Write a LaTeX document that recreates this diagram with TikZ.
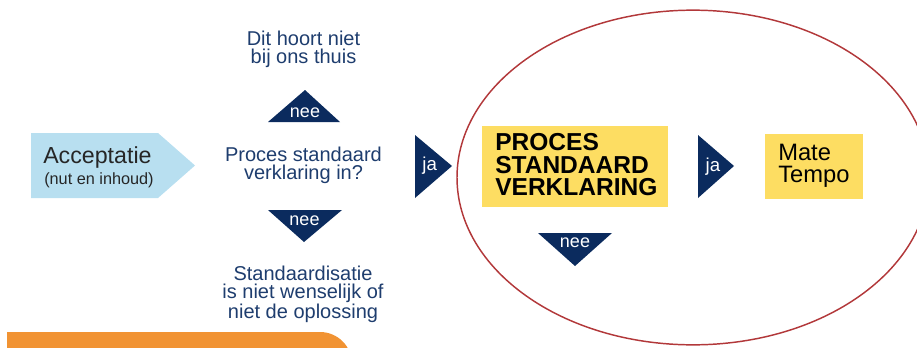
\documentclass[tikz,border=0pt]{standalone}
\usepackage{fontspec}
\setmainfont{Liberation Sans}
\usetikzlibrary{shapes.geometric}
\definecolor{navy}{HTML}{0B2B5E}
\definecolor{navytext}{HTML}{1E3D6E}
\definecolor{lightblue}{HTML}{B8DFF0}
\definecolor{yel}{HTML}{FDDD62}
\definecolor{orng}{HTML}{F19333}
\definecolor{ellred}{HTML}{B2383A}
\begin{document}
\begin{tikzpicture}[x=0.75pt,y=-0.75pt,
  tri/.style={fill=navy},
  trilabel/.style={text=white,font=\fontsize{13.5}{14}\selectfont,inner sep=0},
  navytxt/.style={text=navytext,align=center,font=\fontsize{15}{13.8}\selectfont,inner sep=0},
  ybox/.style={fill=yel,inner sep=0,anchor=north west}]
\useasboundingbox (0,0) rectangle (917,347);
\clip (0,0) rectangle (917,347);

% orange bar at the bottom
\fill[orng] (7,372) -- (7,332) [rounded corners=24pt] -- (352,332) [sharp corners] -- (352,372) -- cycle;

% red ellipse
\node[draw=ellred, line width=1.1pt, ellipse, minimum width=354pt, minimum height=251pt, inner sep=0] (ring) at (693,177.5) {};

% Acceptatie arrow
\fill[lightblue] (31,133) -- (158,133) -- (195,165.5) -- (158,198) -- (31,198) -- cycle;
\node[anchor=base west, inner sep=0, text=black!85, font=\fontsize{17.4}{20}\selectfont] (acc) at (43,163.3) {Acceptatie};
\node[anchor=base west, inner sep=0, text=black!85, font=\fontsize{12.2}{14}\selectfont] (accsub) at (44,184) {(nut en inhoud)};

% question
\node[navytxt] (question) at (303.5,165.6) {Proces standaard\\verklaring in?};

% top branch
\fill[tri] (305,90) -- (340,122) -- (268,122) -- cycle;
\node[trilabel] (neeup) at (305,112.3) {nee};
\node[navytxt] (thuis) at (303.5,49.5) {Dit hoort niet\\bij ons thuis};

% bottom branch
\fill[tri] (268,210) -- (342,210) -- (304,242) -- cycle;
\node[trilabel] (needown) at (304.5,220.5) {nee};
\node[navytxt] (stand) at (303,294.5) {Standaardisatie\\is niet wenselijk of\\niet de oplossing};

% ja 1
\fill[tri] (415,135) -- (452,166) -- (415,198) -- cycle;
\node[trilabel, font=\fontsize{14}{15}\selectfont] (ja1) at (429.7,166) {ja};

% PROCES box
\node[ybox, minimum width=139.5pt, minimum height=60.75pt] (procbox) at (482,126) {};
\node[anchor=west, inner sep=0, align=left, font=\bfseries\fontsize{18.4}{16.6}\selectfont] (proctext) at (495,164.6) {PROCES\\STANDAARD\\VERKLARING};

% nee 3
\fill[tri] (538,233) -- (612,233) -- (575,266) -- cycle;
\node[trilabel] (neeproc) at (575,242.8) {nee};

% ja 2
\fill[tri] (698,135) -- (734,166) -- (698,198) -- cycle;
\node[trilabel, font=\fontsize{14}{15}\selectfont] (ja2) at (713,167) {ja};

% Mate Tempo box
\node[ybox, minimum width=73.5pt, minimum height=48.75pt] (matebox) at (765,134) {};
\node[anchor=west, inner sep=0, align=left, font=\fontsize{17.8}{16.6}\selectfont] (matetext) at (778,165.8) {Mate\\Tempo};
\end{tikzpicture}
\end{document}
